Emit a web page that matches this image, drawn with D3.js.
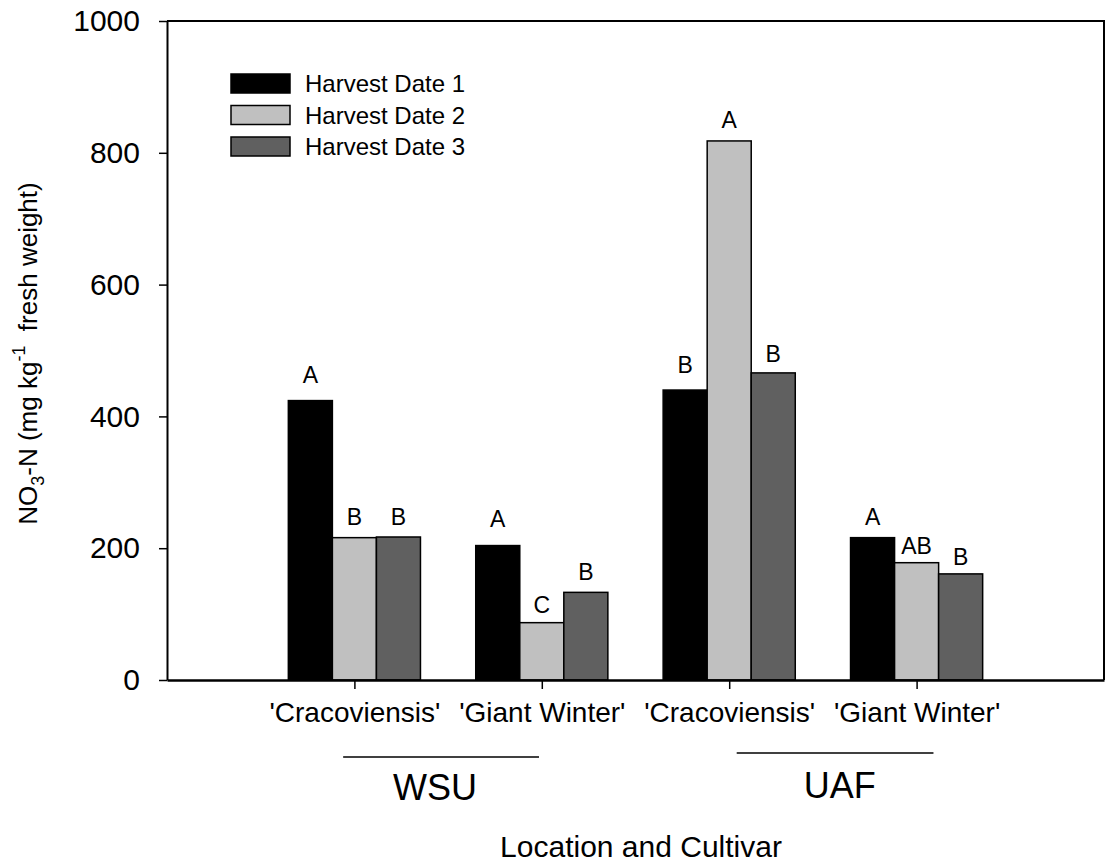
<!DOCTYPE html>
<html>
<head>
<meta charset="utf-8">
<script src="https://cdn.jsdelivr.net/npm/d3@7"></script>
<style>
  body { margin: 0; background: #fff; }
  text { font-family: Arial, "Liberation Sans", sans-serif; fill: #000; }
</style>
</head>
<body>
<div id="chart"></div>
<script>
// chart data
const cultivars = ["'Cracoviensis'", "'Giant Winter'", "'Cracoviensis'", "'Giant Winter'"];
const seriesNames = ["Harvest Date 1", "Harvest Date 2", "Harvest Date 3"];
const harvest1 = [424, 204, 440, 216];
const harvest2 = [216, 87, 818, 178];
const harvest3 = [217, 133, 466, 161];
// mean separation letters and the height (in data units) they sit at
const letters1 = ["A", "A", "B", "A"];
const letters2 = ["B", "C", "A", "AB"];
const letters3 = ["B", "B", "B", "B"];
const letterY1 = [450, 232, 466, 235];
const letterY2 = [235, 101, 837, 191];
const letterY3 = [235, 152, 482, 174];
const locations = ["WSU", "UAF"];
const locationSpan = [[0.94, 1.985], [3.04, 4.09]];
const locationMid = [1.43, 3.59];
const yTicks = [0, 200, 400, 600, 800, 1000];

const width = 1110, height = 867;
const margin = {top: 21, right: 6, bottom: 187, left: 167};
const colors = ["#000000", "#c0c0c0", "#606060"];
const barW = 0.235; // in x units

const svg = d3.select("#chart")
  .append("svg")
  .attr("width", width)
  .attr("height", height);

const x = d3.scaleLinear()
  .domain([0, 5])
  .range([margin.left, width - margin.right]);

const y = d3.scaleLinear()
  .domain([0, 1000])
  .range([height - margin.bottom, margin.top]);

// frame (top + right)
svg.append("path")
  .attr("d", `M${x(0)},${y(1000)}H${x(5)}V${y(0)}`)
  .attr("fill", "none")
  .attr("stroke", "#000")
  .attr("stroke-width", 2);

// bars
const series = [harvest1, harvest2, harvest3];
const letters = [letters1, letters2, letters3];
const letterY = [letterY1, letterY2, letterY3];

series.forEach((vals, s) => {
  svg.append("g")
    .selectAll("rect")
    .data(vals)
    .enter()
    .append("rect")
      .attr("x", (d, i) => x(i + 1 + (s - 1.5) * barW))
      .attr("width", x(barW) - x(0))
      .attr("y", d => y(d))
      .attr("height", d => y(0) - y(d))
      .attr("fill", colors[s])
      .attr("stroke", "#000")
      .attr("stroke-width", 1.5);

  svg.append("g")
    .selectAll("text")
    .data(letters[s])
    .enter()
    .append("text")
      .attr("x", (d, i) => x(i + 1 + (s - 1) * barW))
      .attr("y", (d, i) => y(letterY[s][i]))
      .attr("text-anchor", "middle")
      .attr("font-size", "23px")
      .text(d => d);
});

// y-axis
const yAxis = svg.append("g")
  .attr("transform", `translate(${margin.left},0)`)
  .call(d3.axisLeft(y).tickValues(yTicks).tickFormat(d3.format("d"))
        .tickSize(8).tickSizeOuter(0).tickPadding(19))
  .attr("font-size", "30px");
yAxis.select(".domain").attr("stroke-width", 2);
yAxis.selectAll(".tick line").attr("stroke-width", 1.5);
yAxis.selectAll(".tick text").attr("font-family", "Arial, 'Liberation Sans', sans-serif");

// x-axis
const xAxis = svg.append("g")
  .attr("transform", `translate(0,${y(0)})`)
  .call(d3.axisBottom(x).tickValues([1, 2, 3, 4]).tickFormat(i => cultivars[i - 1])
        .tickSize(9).tickSizeOuter(0).tickPadding(13))
  .attr("font-size", "28px");
xAxis.select(".domain").attr("stroke-width", 2.5);
xAxis.selectAll(".tick line").attr("stroke-width", 1.5);
xAxis.selectAll(".tick text").attr("font-family", "Arial, 'Liberation Sans', sans-serif");

// location brackets
svg.append("g")
  .selectAll("line")
  .data(locationSpan)
  .enter()
  .append("line")
    .attr("x1", d => x(d[0]))
    .attr("x2", d => x(d[1]))
    .attr("y1", (d, i) => i === 0 ? 757 : 753)
    .attr("y2", (d, i) => i === 0 ? 757 : 753)
    .attr("stroke", "#000")
    .attr("stroke-width", 1.5);

svg.append("g")
  .selectAll("text")
  .data(locations)
  .enter()
  .append("text")
    .attr("x", (d, i) => x(locationMid[i]))
    .attr("y", (d, i) => i === 0 ? 800 : 798)
    .attr("text-anchor", "middle")
    .attr("font-size", "36px")
    .text(d => d);

// x title
svg.append("text")
  .attr("x", 641)
  .attr("y", 857)
  .attr("text-anchor", "middle")
  .attr("font-size", "30px")
  .text("Location and Cultivar");

// y title
const yTitle = svg.append("text")
  .attr("transform", `translate(37,${(y(0) + y(1000)) / 2 + 3}) rotate(-90)`)
  .attr("text-anchor", "middle")
  .attr("font-size", "26px");
yTitle.append("tspan").text("NO");
yTitle.append("tspan").attr("font-size", "18px").attr("dy", 7).text("3");
yTitle.append("tspan").attr("dy", -7).text("-N (mg kg");
yTitle.append("tspan").attr("font-size", "18px").attr("dy", -12).text("-1");
yTitle.append("tspan").attr("dy", 12).text("\u00a0 fresh weight)");

// legend
const legend = svg.append("g");
seriesNames.forEach((name, s) => {
  const ly = 74 + s * 31.5;
  legend.append("rect")
    .attr("x", 231)
    .attr("y", ly)
    .attr("width", 59)
    .attr("height", 19)
    .attr("fill", colors[s])
    .attr("stroke", "#000")
    .attr("stroke-width", 1.5);
  legend.append("text")
    .attr("x", 305)
    .attr("y", ly + 9.5)
    .attr("dy", "0.36em")
    .attr("font-size", "24px")
    .text(name);
});
</script>
</body>
</html>
